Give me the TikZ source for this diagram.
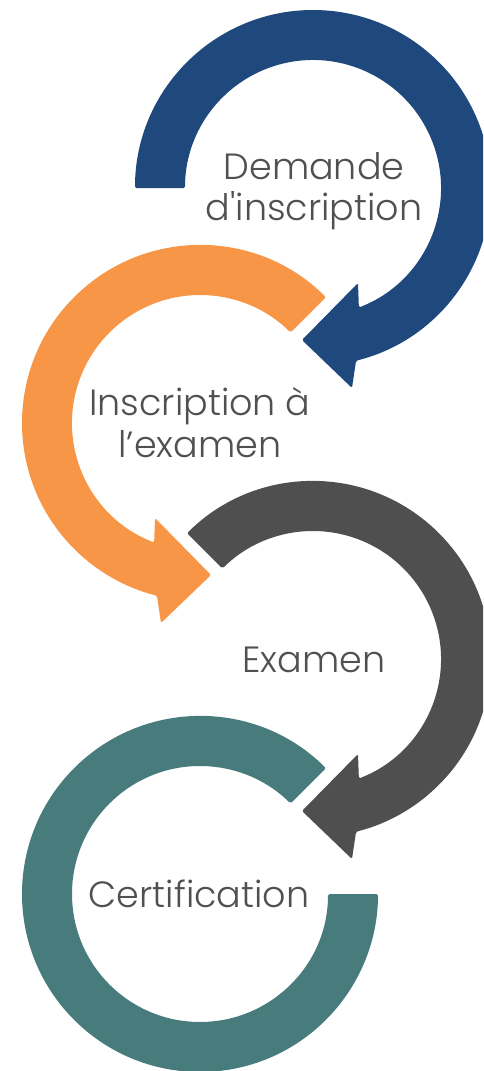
\documentclass[tikz,border=0pt]{standalone}
\usepackage{fontspec}
\setmainfont{Poppins}[UprightFont=* Light]
\usetikzlibrary{calc}
\definecolor{cblue}{HTML}{1F497D}
\definecolor{corange}{HTML}{F79646}
\definecolor{cgray}{HTML}{4F4F4F}
\definecolor{cteal}{HTML}{477B7C}
\definecolor{ctext}{HTML}{505050}
\tikzset{
  ringshape/.style={rounded corners=1.5pt},
  lbl/.style={anchor=base, inner sep=0pt, text=ctext, font=\fontsize{36.5}{40}\selectfont}
}
\begin{document}
\begin{tikzpicture}[x=1pt,y=1pt]
\useasboundingbox (0,0) rectangle (483,-1071);
\clip (0,0) rectangle (483,-1071);
\coordinate (Cb) at (313,-188);
\coordinate (Co) at (200,-423);
\coordinate (Cg) at (313,-659);
\coordinate (Ct) at (200,-894);
% blue ring arrow
\fill[cblue, ringshape] ($(Cb)+(180:128pt)$) -- ($(Cb)+(180:178pt)$)
  arc[start angle=180, end angle=-76, radius=178pt]
  -- ($(Cb)+(39,-200)$) -- ($(Cb)+(-11,-152)$) -- ($(Cb)+(45,-95)$)
  -- ($(Cb)+(-69:128pt)$)
  arc[start angle=-69, end angle=180, radius=128pt] -- cycle;
% orange ring arrow
\fill[corange, ringshape] ($(Co)+(45:128pt)$) -- ($(Co)+(45:178pt)$)
  arc[start angle=45, end angle=256, radius=178pt]
  -- ($(Co)+(-39,-200)$) -- ($(Co)+(11,-152)$) -- ($(Co)+(-45,-95)$)
  -- ($(Co)+(249:128pt)$)
  arc[start angle=249, end angle=45, radius=128pt] -- cycle;
% gray ring arrow
\fill[cgray, ringshape] ($(Cg)+(135:128pt)$) -- ($(Cg)+(135:178pt)$)
  arc[start angle=135, end angle=-76, radius=178pt]
  -- ($(Cg)+(39,-200)$) -- ($(Cg)+(-11,-152)$) -- ($(Cg)+(45,-95)$)
  -- ($(Cg)+(-69:128pt)$)
  arc[start angle=-69, end angle=135, radius=128pt] -- cycle;
% teal ring
\fill[cteal, ringshape] ($(Ct)+(45:128pt)$) -- ($(Ct)+(45:178pt)$)
  arc[start angle=45, end angle=360, radius=178pt]
  -- ($(Ct)+(0:128pt)$)
  arc[start angle=360, end angle=45, radius=128pt] -- cycle;
% labels
\node[lbl] (t1a) at (314,-179) {Demande};
\node[lbl] (t1b) at (314,-220) {d\textquotesingle inscription};
\node[lbl] (t2a) at (200,-415) {Inscription à};
\node[lbl] (t2b) at (200,-457) {l’examen};
\node[lbl] (t3) at (314,-672) {Examen};
\node[lbl] (t4) at (199,-907) {Certification};
\end{tikzpicture}
\end{document}
